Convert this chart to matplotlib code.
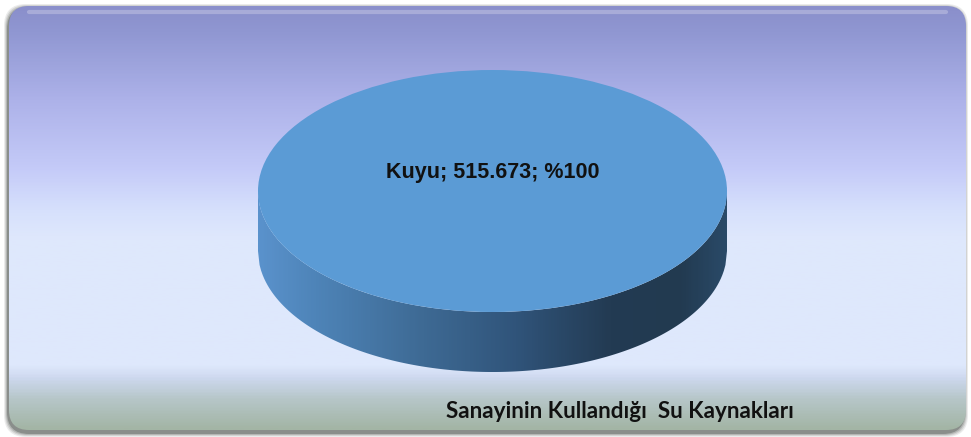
import numpy as np
import matplotlib
matplotlib.use("Agg")
import matplotlib.pyplot as plt
from matplotlib.colors import LinearSegmentedColormap
from matplotlib.patches import FancyBboxPatch, Polygon

# data
categories = ["Kuyu"]
values = [515673]
title = "Sanayinin Kullandığı  Su Kaynakları"

W, H = 971, 437
fig = plt.figure(figsize=(W / 100, H / 100), dpi=100)
fig.patch.set_facecolor("white")

# background panel, pixel coords (y from top)
bg = fig.add_axes([0, 0, 1, 1])
bg.set_xlim(0, W)
bg.set_ylim(H, 0)
bg.axis("off")

x0, y0, x1, y1 = 9, 6, 966, 432
# soft shadow
for i, a in enumerate([0.10, 0.14, 0.20, 0.35]):
    g = 3 - i
    sh = FancyBboxPatch((x0 - 2 - g, y0 + 1 - g), (x1 - x0) + 2 * g + 1, (y1 - y0) + 2 * g + 1,
                        boxstyle="round,pad=0,rounding_size=22", fc="#3c4440", ec="none", alpha=a)
    bg.add_patch(sh)

box = FancyBboxPatch((x0, y0), x1 - x0, y1 - y0 - 2,
                     boxstyle="round,pad=0,rounding_size=20", fc="none", ec="none")
bg.add_patch(box)

stops = [(0.00, "#8a8fcb"), (0.06, "#9097d2"), (0.22, "#adb2e9"), (0.38, "#c4caf8"),
         (0.48, "#d6e0fc"), (0.55, "#dfe8fc"), (0.85, "#dee8fc"), (0.88, "#cdd8ee"),
         (0.93, "#b6c6c8"), (1.00, "#a3b5a5")]
bg_cmap = LinearSegmentedColormap.from_list("bg", stops)
grad = np.linspace(0, 1, 400).reshape(-1, 1)
im = bg.imshow(grad, cmap=bg_cmap, aspect="auto", extent=[x0, x1, y1 - 2, y0], zorder=2)
im.set_clip_path(box)
# top highlight
bg.plot([x0 + 20, x1 - 20], [y0 + 6, y0 + 6], color="white", alpha=0.25, lw=3,
        solid_capstyle="round", zorder=3)

# pie geometry in pixels
cx, cy = 492.5, 191      # centre, y from top
rx, ry = 234.5, 121
depth = 60 / ry          # wall height in y-units

xr = (-1.1, 1.1)
yr = (-1.0 - depth - 0.1, 1.1)
left = cx + xr[0] * rx
bottom = (H - cy) + yr[0] * ry
ax = fig.add_axes([left / W, bottom / H, (xr[1] - xr[0]) * rx / W, (yr[1] - yr[0]) * ry / H])
ax.patch.set_alpha(0)

total = sum(values)
labels = [f"{c}; {v:,}; %{round(v / total * 100)}".replace(",", ".") for c, v in zip(categories, values)]
wedges, texts = ax.pie(values, labels=labels, colors=["#5b9bd5"], startangle=270,
                       labeldistance=0.15, radius=1, wedgeprops=dict(linewidth=0, zorder=3),
                       textprops=dict(fontsize=15.5, fontweight="bold", color="#111111",
                                      family="Liberation Sans"))
for t in texts:
    t.set_ha("center")
    t.set_va("center")
    t.set_zorder(5)
ax.set_aspect("auto")
ax.set_xlim(*xr)
ax.set_ylim(*yr)
ax.axis("off")

# side wall of the 3d pie
xs = np.linspace(-1, 1, 300)
top_edge = -np.sqrt(1 - xs ** 2)
verts = np.concatenate([np.column_stack([xs, top_edge]),
                        np.column_stack([xs[::-1], top_edge[::-1] - depth])])
wall = Polygon(verts, closed=True, fc="none", ec="none")
ax.add_patch(wall)
wall_cmap = LinearSegmentedColormap.from_list(
    "wall", [(0, "#5a92cc"), (0.12, "#4e84b8"), (0.35, "#3e6a94"), (0.55, "#30547a"),
             (0.75, "#233b53"), (0.9, "#223a50"), (1.0, "#2a4a68")])
wg = ax.imshow(np.linspace(0, 1, 300).reshape(1, -1), cmap=wall_cmap, aspect="auto",
               extent=[-1, 1, -1 - depth, 0], zorder=2)
wg.set_clip_path(wall)

fig.text(620 / W, 1 - 412 / H, title, fontsize=16.2, fontweight="bold",
         family="Lato", ha="center", va="center", color="#111111")

fig.savefig("out.png", dpi=100)
